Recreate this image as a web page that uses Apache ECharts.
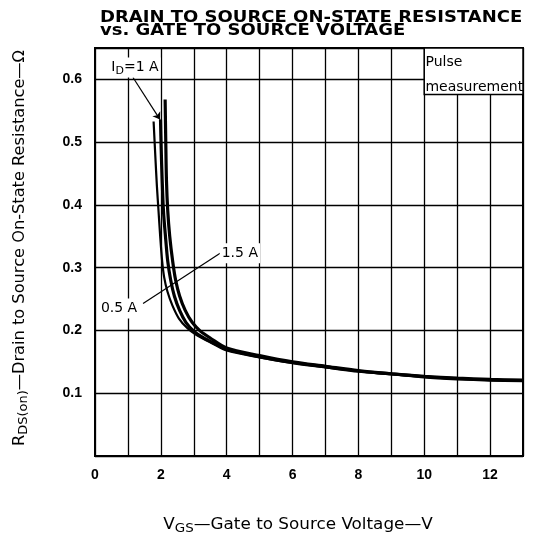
<!DOCTYPE html>
<html>
<head>
    <meta charset="utf-8">
    <script src="https://cdn.jsdelivr.net/npm/echarts@6/dist/echarts.min.js"></script>
</head>
<body style="margin: 0">
    <div id="container" style="width: 534px; height: 540px"></div>
    <script type="text/javascript">
        var dom = document.getElementById("container");
        var myChart = echarts.init(dom);

        // curves: [VGS, RDS(on)]
        var curve05A = [[1.78, 0.533], [1.83, 0.48], [1.88, 0.43], [1.93, 0.39], [1.98, 0.35], [2.04, 0.31],
            [2.1, 0.285], [2.2, 0.262], [2.35, 0.24], [2.55, 0.219], [2.8, 0.204], [3.05, 0.194], [3.5, 0.181], [4, 0.168],
            [5, 0.157], [6, 0.148], [7, 0.141], [8, 0.135], [9, 0.13], [10, 0.126], [11, 0.123], [12, 0.121], [13, 0.12]];
        var curve1A = [[1.99, 0.536], [2.01, 0.49], [2.04, 0.44], [2.08, 0.39], [2.14, 0.35], [2.21, 0.31],
            [2.3, 0.28], [2.41, 0.255], [2.57, 0.232], [2.76, 0.213], [3.0, 0.199], [3.3, 0.188], [3.6, 0.18], [4, 0.17],
            [5, 0.158], [6, 0.149], [7, 0.142], [8, 0.135], [9, 0.131], [10, 0.126], [11, 0.123], [12, 0.121], [13, 0.12]];
        var curve15A = [[2.13, 0.568], [2.15, 0.5], [2.17, 0.44], [2.21, 0.39], [2.27, 0.35], [2.36, 0.31],
            [2.45, 0.28], [2.57, 0.255], [2.74, 0.232], [2.95, 0.213], [3.2, 0.199], [3.5, 0.188], [4, 0.172],
            [5, 0.16], [6, 0.15], [7, 0.143], [8, 0.136], [9, 0.131], [10, 0.127], [11, 0.124], [12, 0.122], [13, 0.121]];

        var xTickLabels = [0, 2, 4, 6, 8, 10, 12];
        var yTickLabels = [0.1, 0.2, 0.3, 0.4, 0.5, 0.6];

        var noteTexts = ['{i|I}{s|D}{i|=1 A}', '{i|1.5 A}', '{i|0.5 A}'];
        var noteCoords = [[1.215, 0.619], [4.40, 0.323], [0.73, 0.235]];
        var idArrow = [[1.155, 0.603], [1.976, 0.536]];
        var currentLeader = [[1.46, 0.243], [3.80, 0.323]];
        var pulseBox = [[10, 0.576], [13, 0.65]];

        var black = '#000';
        var textFont = 'DejaVu Sans';

        function curve(name, data, width) {
            return {
                name: name,
                type: 'line',
                data: data,
                smooth: 0.3,
                showSymbol: false,
                lineStyle: { color: black, width: width },
                silent: true
            };
        }

        var s05 = curve('0.5 A', curve05A, 2.2);
        s05.markArea = {
            silent: true,
            itemStyle: { color: '#fff', borderColor: black, borderWidth: 1.5 },
            label: {
                show: true,
                position: 'insideLeft',
                distance: 2,
                offset: [0, 4],
                color: black,
                fontFamily: textFont,
                fontSize: 14,
                lineHeight: 25
            },
            data: [[{ coord: pulseBox[0], name: 'Pulse\nmeasurement' }, { coord: pulseBox[1] }]]
        };
        s05.markLine = {
            silent: true,
            animation: false,
            symbolSize: 7,
            label: { show: false },
            lineStyle: { color: black, width: 1.2, type: 'solid' },
            data: [
                [{ coord: idArrow[0], symbol: 'none' }, { coord: idArrow[1], symbol: 'arrow' }],
                [{ coord: currentLeader[0], symbol: 'none' }, { coord: currentLeader[1], symbol: 'none' }]
            ]
        };
        s05.markPoint = {
            silent: true,
            symbol: 'rect',
            symbolSize: 1,
            itemStyle: { color: 'rgba(0,0,0,0)' },
            label: {
                show: true,
                position: 'inside',
                formatter: '{b}',
                backgroundColor: '#fff',
                padding: [1, 2],
                rich: {
                    i: { color: black, fontFamily: textFont, fontSize: 14, lineHeight: 18 },
                    s: { color: black, fontFamily: textFont, fontSize: 11, lineHeight: 11, verticalAlign: 'bottom' }
                }
            },
            data: noteTexts.map(function (t, k) {
                return { name: t, coord: noteCoords[k] };
            })
        };

        option = {
            animation: false,
            backgroundColor: '#fff',
            grid: {
                left: 95, right: 11, top: 48, bottom: 84,
                show: true, borderColor: black, borderWidth: 2
            },
            xAxis: {
                type: 'value',
                min: 0, max: 13, interval: 1,
                axisLine: { show: true, lineStyle: { color: black, width: 2 } },
                axisTick: { show: false },
                splitLine: { show: true, lineStyle: { color: black, width: 1.3 } },
                axisLabel: {
                    color: black, fontFamily: 'Liberation Sans', fontWeight: 'bold', fontSize: 14, margin: 12,
                    formatter: function (v) { return xTickLabels.indexOf(v) >= 0 ? String(v) : ''; }
                }
            },
            yAxis: {
                type: 'value',
                min: 0, max: 0.65, interval: 0.1,
                axisLine: { show: true, lineStyle: { color: black, width: 2 } },
                axisTick: { show: false },
                splitLine: { show: true, lineStyle: { color: black, width: 1.3 } },
                axisLabel: {
                    color: black, fontFamily: 'Liberation Sans', fontWeight: 'bold', fontSize: 14, margin: 13,
                    formatter: function (v) {
                        var hit = yTickLabels.some(function (t) { return Math.abs(t - v) < 1e-6; });
                        return hit ? v.toFixed(1) : '';
                    }
                }
            },
            graphic: [
                {
                    type: 'text', x: 100, y: 12, scaleX: 1.2,
                    style: {
                        text: 'DRAIN TO SOURCE ON-STATE RESISTANCE\nvs. GATE TO SOURCE VOLTAGE',
                        font: 'bold 15px "DejaVu Sans"', lineHeight: 13, fill: black,
                        align: 'left', verticalAlign: 'top'
                    }
                },
                {
                    type: 'text', x: 20, y: 248, rotation: Math.PI / 2, scaleX: 1.08,
                    style: {
                        text: '{m|R}{s|DS(on)}{m|—Drain to Source On-State Resistance—Ω}',
                        align: 'center', verticalAlign: 'middle',
                        rich: {
                            m: { fontFamily: textFont, fontSize: 15, lineHeight: 19, fill: black },
                            s: { fontFamily: textFont, fontSize: 12, lineHeight: 12, verticalAlign: 'bottom', fill: black }
                        }
                    }
                },
                {
                    type: 'text', x: 298, y: 525, scaleX: 1.12,
                    style: {
                        text: '{m|V}{s|GS}{m|—Gate to Source Voltage—V}',
                        align: 'center', verticalAlign: 'middle',
                        rich: {
                            m: { fontFamily: textFont, fontSize: 15, lineHeight: 19, fill: black },
                            s: { fontFamily: textFont, fontSize: 12, lineHeight: 12, verticalAlign: 'bottom', fill: black }
                        }
                    }
                }
            ],
            series: [s05, curve('1 A', curve1A, 3.2), curve('1.5 A', curve15A, 3.2)]
        };

        if (option && typeof option === "object") {
            myChart.setOption(option, true);
        }
    </script>
</body>
</html>
